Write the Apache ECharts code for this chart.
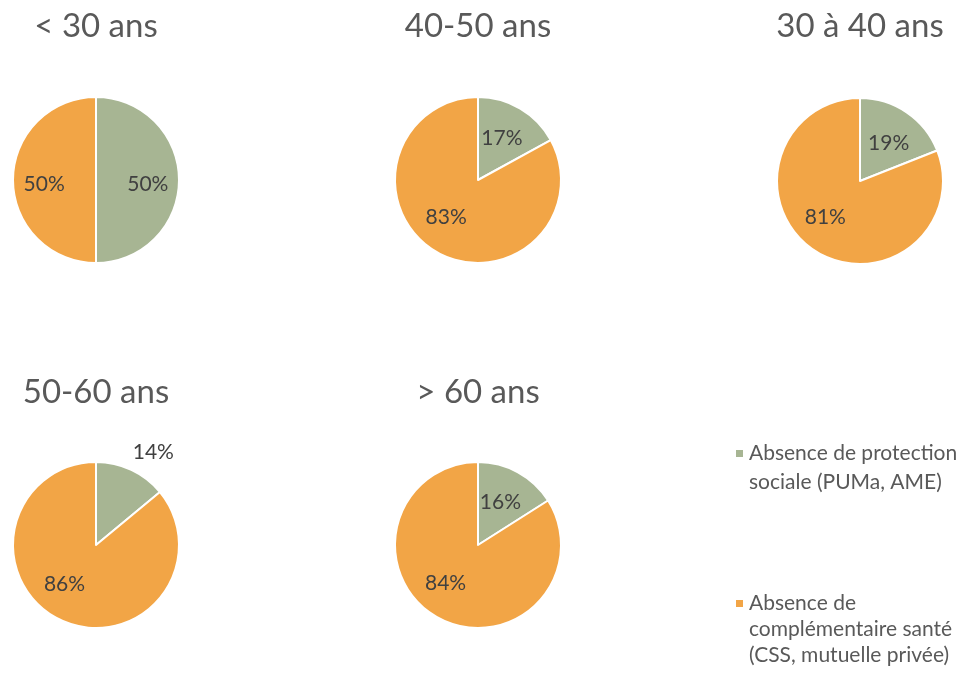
<!DOCTYPE html>
<html><head><meta charset="utf-8">
<script src="https://cdn.jsdelivr.net/npm/echarts@6/dist/echarts.min.js"></script>
<style>html,body{margin:0;padding:0;background:#fff}#c{width:965px;height:677px}</style>
</head><body><div id="c"></div>
<script>
const categories = ['Absence de protection sociale (PUMa, AME)', 'Absence de complémentaire santé (CSS, mutuelle privée)'];
const legendLines = [['Absence de protection', 'sociale (PUMa, AME)'], ['Absence de', 'complémentaire santé', '(CSS, mutuelle privée)']];
const groups = ['< 30 ans', '40-50 ans', '30 à 40 ans', '50-60 ans', '> 60 ans'];
const protection = [50, 17, 19, 14, 16];
const complementaire = [50, 83, 81, 86, 84];

// layout (not data)
const centers = [[96, 180], [478, 180], [860, 181], [96, 545], [478, 545]];
const titleCenterY = [26, 26, 26, 392, 392];
const R = 83;
const colors = ['#A7B593', '#F2A546'];
const FONT = 'Lato';
const TITLE_FS = 33;
const outsideLabel = [false, false, false, true, false];
// label nudges [protection, complementaire] per pie
const nudges = [
  [[-1, 4], [1, 4]],
  [[-3, 4], [-5, -8]],
  [[-1, 6], [-5, -7]],
  [[-13, 2], [-9, -9]],
  [[-3, 4], [-7, -8]]
];

const chart = echarts.init(document.getElementById('c'));
const series = [];
const titles = [];
groups.forEach((g, i) => {
  titles.push({
    text: g, left: centers[i][0], top: titleCenterY[i] - TITLE_FS / 2, textAlign: 'center', padding: 0,
    textStyle: { fontFamily: FONT, fontSize: TITLE_FS, fontWeight: 'normal', color: '#595959' }
  });
  const vals = [protection[i], complementaire[i]];
  series.push({
    type: 'pie', center: centers[i], radius: [0, R], startAngle: 90, clockwise: true,
    silent: true, label: { show: false }, labelLine: { show: false },
    itemStyle: { borderColor: '#fff', borderWidth: 2 },
    data: vals.map((v, k) => ({ name: categories[k], value: v, itemStyle: { color: colors[k] } }))
  });
  series.push({
    type: 'pie', center: centers[i], radius: [R * 0.2, R], startAngle: 90, clockwise: true,
    silent: true, legendHoverLink: false,
    itemStyle: { color: 'transparent' },
    labelLine: { show: false, length: 22, length2: 0 },
    label: { show: true, position: 'inside', formatter: '{c}%', fontFamily: FONT, fontSize: 21, color: '#404040' },
    data: vals.map((v, k) => {
      const d = { name: categories[k] + ' ', value: v, label: { offset: nudges[i][k] } };
      if (k === 0 && outsideLabel[i]) d.label.position = 'outside';
      return d;
    })
  });
});

const LH = [29, 26];
const iconCY = [453.5, 603.5];
const legends = categories.map((c, k) => {
  const n = legendLines[k].length;
  const L = LH[k];
  return {
    show: true, orient: 'vertical', left: 734, top: iconCY[k] - (2 * n - 1) * L / 2,
    padding: 0, icon: 'rect', itemWidth: 9, itemHeight: 9, selectedMode: false,
    data: [{ name: c, itemStyle: { color: colors[k] } }],
    formatter: () => '\n'.repeat(n - 1) + legendLines[k].join('\n'),
    textStyle: { fontFamily: FONT, fontSize: 21, color: '#595959', lineHeight: L }
  };
});

chart.setOption({
  animation: false,
  color: colors,
  title: titles,
  legend: legends,
  series: series
});
</script></body></html>
